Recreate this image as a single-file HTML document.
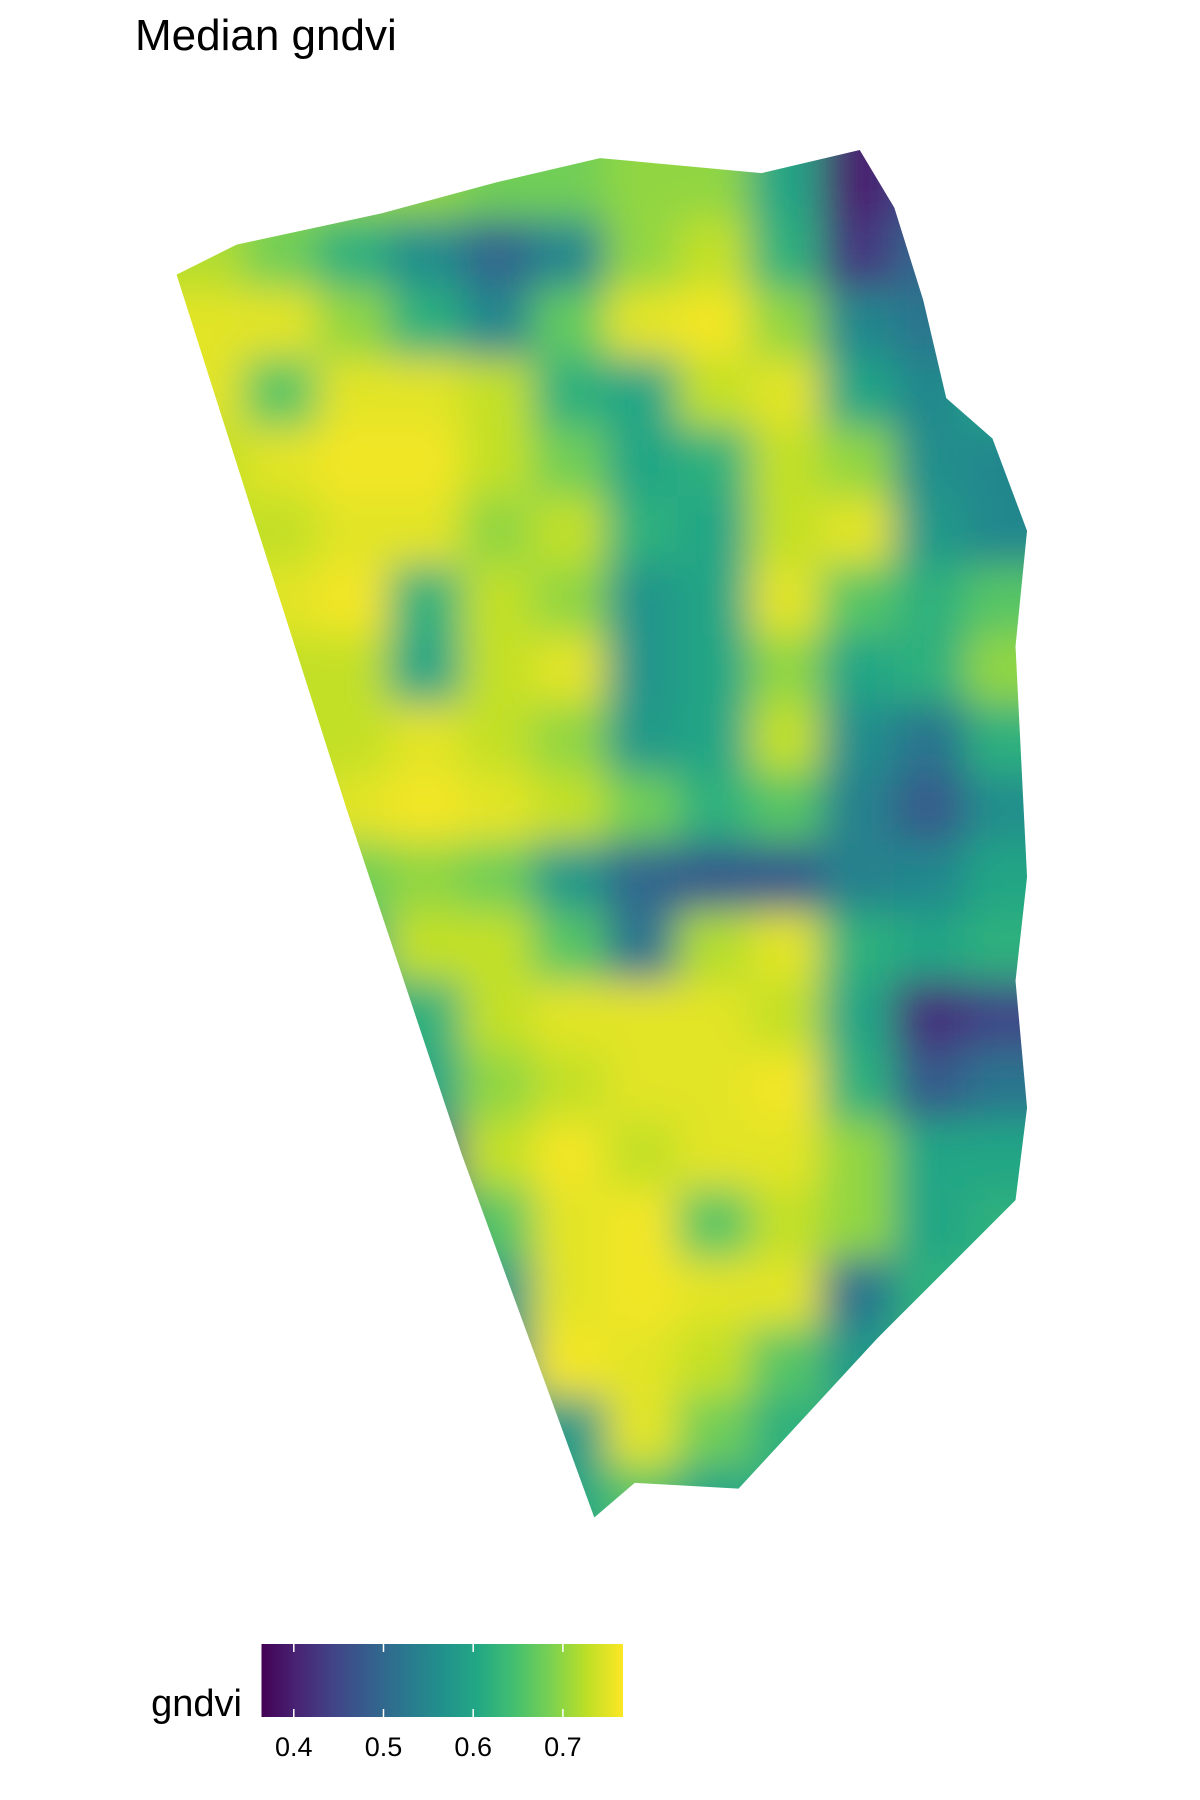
<!DOCTYPE html>
<html><head><meta charset="utf-8"><style>
html,body{margin:0;padding:0;background:#fff;}
svg{display:block;font-family:"Liberation Sans",sans-serif;}
</style></head><body>
<svg id="chart" width="1200" height="1800" viewBox="0 0 1200 1800">
<defs>
<filter id="blur" x="-10%" y="-10%" width="120%" height="120%"><feGaussianBlur stdDeviation="20"/></filter>
<clipPath id="fieldClip"><polygon id="clipPoly"/></clipPath>
<linearGradient id="viridisGrad" x1="0" x2="1" y1="0" y2="0"></linearGradient>
</defs>
<text x="135" y="50" font-size="44" fill="#000">Median gndvi</text>
<g id="field" clip-path="url(#fieldClip)"><g id="cells" filter="url(#blur)"></g></g>
<g id="legend">
<text x="242" y="1716" font-size="38" text-anchor="end" fill="#000">gndvi</text>
<rect x="261.5" y="1652" width="361.5" height="73" fill="url(#viridisGrad)" id="cbar"/>
<g id="ticks"></g>
</g>
</svg>
<script>
const S = 1.154;
const colCenters = [181,243,306,368,431,493,556,618,681,743,806,868];
const rowCenters = [160,220,280,340,400,460,520,580,640,700,760,820,880,940,1000,1060,1120,1180,1240,1300];
const gridValues = [
[.7,.7,.7,.7,.68,.68,.7,.7,.6,.4,.45,.62],
[.72,.68,.62,.56,.5,.55,.7,.73,.62,.43,.5,.62],
[.75,.75,.7,.62,.55,.67,.75,.76,.7,.55,.52,.6],
[.75,.66,.75,.75,.73,.62,.6,.73,.75,.6,.55,.6],
[.73,.75,.76,.76,.73,.68,.6,.62,.73,.7,.56,.55],
[.73,.73,.75,.75,.7,.73,.62,.6,.73,.75,.58,.55],
[.73,.75,.76,.62,.73,.7,.57,.6,.75,.66,.62,.66],
[.73,.73,.73,.6,.73,.75,.57,.6,.7,.6,.62,.7],
[.73,.73,.73,.75,.73,.7,.58,.6,.73,.56,.52,.62],
[.73,.7,.75,.76,.75,.73,.68,.62,.66,.54,.48,.56],
[.73,.73,.68,.7,.68,.58,.5,.48,.48,.54,.55,.6],
[.73,.73,.62,.73,.73,.66,.52,.72,.75,.62,.6,.62],
[.73,.73,.58,.62,.73,.75,.75,.75,.73,.6,.42,.45],
[.73,.73,.6,.6,.7,.73,.75,.75,.76,.62,.48,.52],
[.73,.73,.73,.48,.73,.76,.73,.75,.75,.7,.6,.6],
[.73,.73,.73,.46,.66,.75,.76,.66,.73,.7,.6,.62],
[.73,.73,.73,.62,.58,.75,.76,.75,.75,.52,.62,.62],
[.73,.73,.73,.73,.55,.76,.75,.73,.66,.58,.62,.62],
[.73,.73,.73,.73,.6,.58,.75,.68,.62,.62,.62,.62],
[.73,.73,.73,.73,.58,.6,.66,.6,.62,.62,.62,.62]
];
const fieldOutline = [[153,238],[205,212],[330,185],[430,158],[520,137],[660,150],[745,130],[775,180],[800,260],[820,345],[860,380],[890,460],[880,560],[885,660],[890,760],[880,850],[890,960],[880,1040],[760,1160],[640,1290],[550,1285],[515,1315],[400,1000],[300,700],[230,480]];
const tickValues = [0.4,0.5,0.6,0.7];
const tickLabels = ["0.4","0.5","0.6","0.7"];
const vmin = 0.364, vmax = 0.767;

const vir = ["#440154","#482475","#414487","#355f8d","#2a788e","#21918c","#22a884","#44bf70","#7ad151","#bddf26","#fde725"];
function hex(h){return [1,3,5].map(i=>parseInt(h.substr(i,2),16));}
function viridis(t){t=Math.max(0,Math.min(1,t));const p=t*(vir.length-1),i=Math.min(vir.length-2,Math.floor(p)),f=p-i;
 const a=hex(vir[i]),b=hex(vir[i+1]);return "rgb("+a.map((v,k)=>Math.round(v+(b[k]-v)*f)).join(",")+")";}
const ns="http://www.w3.org/2000/svg";
const xs = v => v*S, ys = v => v*S;
const lx = v => 261.5 + (v-vmin)/(vmax-vmin)*361.5;
const barTop = 1644, barH = 73;
document.getElementById('cbar').setAttribute('y', barTop);

document.getElementById('clipPoly').setAttribute('points', fieldOutline.map(p=>xs(p[0])+","+ys(p[1])).join(" "));
const cells=document.getElementById('cells');
const cw=62.5*S, ch=60*S;
gridValues.forEach((row,r)=>row.forEach((v,c)=>{
 const e=document.createElementNS(ns,'rect');
 let w=cw, h=ch, x=xs(colCenters[c])-cw/2, y=ys(rowCenters[r])-ch/2;
 if(c===0){x-=80;w+=80;} if(c===row.length-1){w+=80;}
 if(r===0){y-=80;h+=80;} if(r===gridValues.length-1){h+=80;}
 e.setAttribute('x',x);e.setAttribute('y',y);e.setAttribute('width',w+1);e.setAttribute('height',h+1);
 e.setAttribute('fill',viridis((v-vmin)/(vmax-vmin)));
 
 
 cells.appendChild(e);
}));
const grad=document.getElementById('viridisGrad');
vir.forEach((c,i)=>{const s=document.createElementNS(ns,'stop');s.setAttribute('offset',(i/(vir.length-1)*100)+"%");s.setAttribute('stop-color',c);grad.appendChild(s);});
const tg=document.getElementById('ticks');
tickValues.forEach((v,i)=>{
 [[barTop,barTop+8],[barTop+barH-8,barTop+barH]].forEach(([a,b])=>{
  const l=document.createElementNS(ns,'line');
  l.setAttribute('x1',lx(v));l.setAttribute('x2',lx(v));l.setAttribute('y1',a);l.setAttribute('y2',b);
  l.setAttribute('stroke','#fff');l.setAttribute('stroke-width','1.5');
  
  
  tg.appendChild(l);
 });
 const t=document.createElementNS(ns,'text');
 t.setAttribute('x',lx(v));t.setAttribute('y',1765-9);t.setAttribute('font-size','27');t.setAttribute('text-anchor','middle');
 t.textContent=tickLabels[i];
 
 
 tg.appendChild(t);
});
</script>
</body></html>
